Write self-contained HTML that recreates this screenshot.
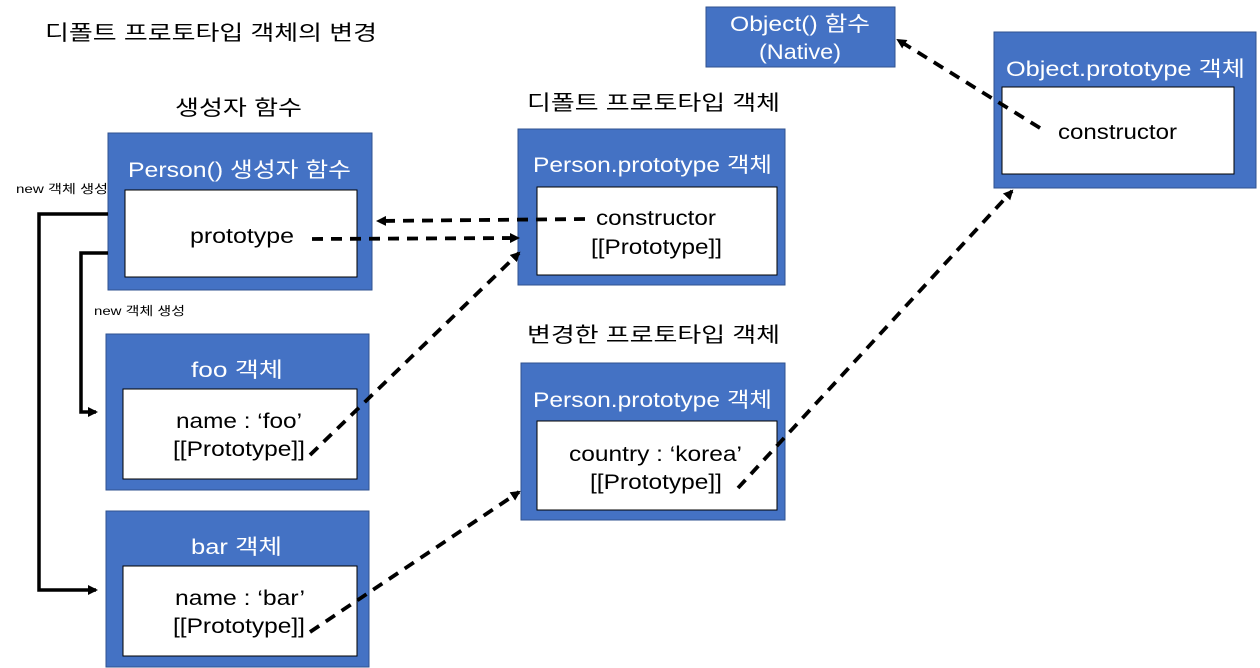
<!DOCTYPE html>
<html><head><meta charset="utf-8"><style>
html,body{margin:0;padding:0;background:#fff;}
svg{display:block;}
text{font-family:"Liberation Sans","Noto Sans CJK KR",sans-serif;}
</style></head><body>
<svg width="1260" height="668" viewBox="0 0 1260 668" xmlns="http://www.w3.org/2000/svg">
<defs>
<marker id="ah" markerWidth="10" markerHeight="10" refX="8" refY="5" orient="auto" markerUnits="userSpaceOnUse">
<path d="M0,0 L10,5 L0,10 z" fill="#000"/>
</marker>
</defs>
<g font-size="21" fill="#000" lengthAdjust="spacingAndGlyphs">
<text x="45" y="40" textLength="332" lengthAdjust="spacingAndGlyphs">디폴트 프로토타입 객체의 변경</text>
<text x="175" y="115" textLength="127" lengthAdjust="spacingAndGlyphs">생성자 함수</text>
<text x="527" y="110" textLength="253" lengthAdjust="spacingAndGlyphs">디폴트 프로토타입 객체</text>
<text x="527" y="342" textLength="253" lengthAdjust="spacingAndGlyphs">변경한 프로토타입 객체</text>
<text x="16" y="193" font-size="12" textLength="92" lengthAdjust="spacingAndGlyphs">new 객체 생성</text>
<text x="94" y="315" font-size="12" textLength="91" lengthAdjust="spacingAndGlyphs">new 객체 생성</text>
</g>
<g fill="#4472C4" stroke="#2F528F" stroke-width="1">
<rect x="706" y="7" width="189" height="60"/>
<rect x="994" y="32" width="262" height="156"/>
<rect x="108" y="133" width="264" height="157"/>
<rect x="518" y="129" width="267" height="156"/>
<rect x="521" y="363" width="264" height="157"/>
<rect x="106" y="334" width="263" height="156"/>
<rect x="106" y="511" width="263" height="156"/>
</g>
<g fill="#fff" stroke="#000" stroke-width="1">
<rect x="1002" y="87" width="232" height="87"/>
<rect x="125" y="190" width="232" height="87"/>
<rect x="537" y="187" width="240" height="88"/>
<rect x="537" y="421" width="240" height="89"/>
<rect x="123" y="389" width="234" height="90"/>
<rect x="123" y="566" width="234" height="90"/>
</g>
<g fill="#fff" font-size="21">
<text x="730" y="31" textLength="140" lengthAdjust="spacingAndGlyphs">Object() 함수</text>
<text x="759" y="59" textLength="82" lengthAdjust="spacingAndGlyphs">(Native)</text>
<text x="1006" y="76" textLength="239" lengthAdjust="spacingAndGlyphs">Object.prototype  객체</text>
<text x="128" y="177" textLength="223" lengthAdjust="spacingAndGlyphs">Person() 생성자 함수</text>
<text x="533" y="172" textLength="239" lengthAdjust="spacingAndGlyphs">Person.prototype  객체</text>
<text x="533" y="407" textLength="239" lengthAdjust="spacingAndGlyphs">Person.prototype  객체</text>
<text x="191" y="377" textLength="92" lengthAdjust="spacingAndGlyphs">foo 객체</text>
<text x="191" y="554" textLength="91" lengthAdjust="spacingAndGlyphs">bar 객체</text>
</g>
<g fill="#000" font-size="21">
<text x="1058" y="139" textLength="119" lengthAdjust="spacingAndGlyphs">constructor</text>
<text x="190" y="243" textLength="104" lengthAdjust="spacingAndGlyphs">prototype</text>
<text x="596" y="225" textLength="120" lengthAdjust="spacingAndGlyphs">constructor</text>
<text x="591" y="254" textLength="131" lengthAdjust="spacingAndGlyphs">[[Prototype]]</text>
<text x="569" y="461" textLength="173" lengthAdjust="spacingAndGlyphs">country : ‘korea’</text>
<text x="590" y="489" textLength="132" lengthAdjust="spacingAndGlyphs">[[Prototype]]</text>
<text x="176" y="428" textLength="126" lengthAdjust="spacingAndGlyphs">name : ‘foo’</text>
<text x="173" y="456" textLength="132" lengthAdjust="spacingAndGlyphs">[[Prototype]]</text>
<text x="175" y="605" textLength="130" lengthAdjust="spacingAndGlyphs">name : ‘bar’</text>
<text x="173" y="633" textLength="132" lengthAdjust="spacingAndGlyphs">[[Prototype]]</text>
</g>
<g fill="none" stroke="#000" stroke-width="3.5">
<polyline points="108,214 39,214 39,590 96,590" marker-end="url(#ah)"/>
<polyline points="108,253 81,253 81,412 96,412" marker-end="url(#ah)"/>
</g>
<g fill="none" stroke="#000" stroke-width="3.8" stroke-dasharray="11,8">
<line x1="312" y1="239" x2="518" y2="238" marker-end="url(#ah)"/>
<line x1="585" y1="219" x2="378" y2="221" marker-end="url(#ah)"/>
<line x1="310" y1="455" x2="519" y2="253" marker-end="url(#ah)"/>
<line x1="310" y1="632" x2="519" y2="492" marker-end="url(#ah)"/>
<line x1="738" y1="488" x2="1012" y2="191" marker-end="url(#ah)"/>
<line x1="1040" y1="128" x2="898" y2="40" marker-end="url(#ah)"/>
</g>
</svg>
</body></html>
